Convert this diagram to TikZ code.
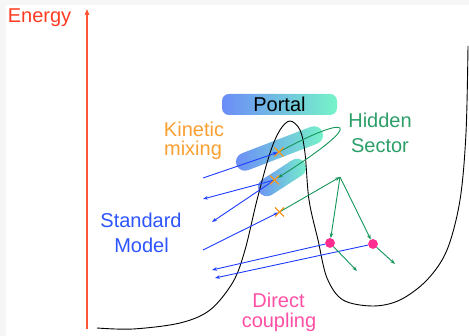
\documentclass[tikz,border=0pt]{standalone}
\usepackage{fontspec}
\setmainfont{Liberation Sans}
\usetikzlibrary{arrows.meta}

\definecolor{axisred}{RGB}{255,85,55}
\definecolor{energyred}{RGB}{255,60,35}
\definecolor{kinorange}{RGB}{250,160,50}
\definecolor{crossorange}{RGB}{245,150,30}
\definecolor{smblue}{RGB}{30,60,255}
\definecolor{smtext}{RGB}{45,85,255}
\definecolor{hsgreen}{RGB}{20,150,90}
\definecolor{hstext}{RGB}{45,160,105}
\definecolor{dotpink}{RGB}{255,45,145}
\definecolor{dctext}{RGB}{255,80,165}
\definecolor{shadeblue}{RGB}{108,140,248}
\definecolor{shadegreen}{RGB}{118,244,200}
\definecolor{panelgray}{RGB}{246,246,246}

\tikzset{
  lbl/.style={anchor=base, inner sep=0pt, font=\fontsize{20}{24}\selectfont},
  tip/.style={-{Stealth[length=5pt,width=3.6pt]}},
  smarrow/.style={tip, draw=smblue, line width=0.9pt},
  hsarrow/.style={tip, draw=hsgreen, line width=0.9pt},
  tube/.style={rounded corners=9pt, left color=shadeblue, right color=shadegreen},
  cross/.style={draw=crossorange, line width=1.3pt},
  pinkdot/.style={circle, fill=dotpink, inner sep=0pt, minimum size=9.5pt},
}

\begin{document}
\begin{tikzpicture}[x=1pt,y=-1pt]
  % canvas
  \fill[panelgray] (0,0) rectangle (469,336);
  \fill[white] (6,5) rectangle (469,336);
  \useasboundingbox (0,0) rectangle (469,336);

  % energy axis
  \coordinate (axbot) at (87,329);
  \coordinate (axtop) at (87,9);
  \draw[axisred, line width=1.3pt, -{Triangle[length=6pt,width=4.5pt]}] (axbot) -- (axtop);
  \node[lbl, text=energyred] (energy) at (39.5,23) {Energy};

  % mixing tubes
  \begin{scope}[shift={(279.5,148.5)}, rotate=21]
    \shade[tube] (-46,-9) rectangle (46,9);
  \end{scope}
  \begin{scope}[shift={(282,177.5)}, rotate=33]
    \shade[tube] (-27,-9) rectangle (27,9);
  \end{scope}

  % potential
  \draw[black, line width=0.9pt] plot[smooth, tension=0.55] coordinates {
    (97,328) (133,329) (180,323) (210,310) (233,282) (245,250) (257,200)
    (270,153) (280,130) (290,121) (300,130) (305,153) (309,200) (318,240)
    (327,278) (343,300) (373,306) (400,300) (427,280) (447,250) (460,200)
    (466,133) (468,46)};

  % portal
  \node[rounded corners=7pt, left color=shadeblue, right color=shadegreen,
        minimum width=115pt, minimum height=21pt, inner sep=0pt,
        font=\fontsize{20}{24}\selectfont] (portal) at (279.5,104.5) {Portal};

  % interaction points
  \coordinate (X1) at (279,152);
  \coordinate (X2) at (274.5,180);
  \coordinate (X3) at (279.5,212);
  \coordinate (V) at (340,177);
  \node[pinkdot] (d1) at (330,243) {};
  \node[pinkdot] (d2) at (373,244) {};

  % standard model legs
  \coordinate (s1) at (203,178);
  \coordinate (s2) at (203,199);
  \coordinate (s3) at (212,222);
  \coordinate (s4) at (203,250);
  \coordinate (s5) at (212,270);
  \coordinate (s6) at (215,278);
  \draw[smarrow, shorten >=1pt] (s1) -- (X1);
  \draw[smarrow] (X2) -- (s2);
  \draw[smarrow] (X2) -- (s3);
  \draw[smarrow, shorten >=1pt] (s4) -- (X3);
  \draw[smarrow] (d1) -- (s5);
  \draw[smarrow] (d2) -- (s6);

  % hidden sector legs
  \coordinate (h1) at (357,271);
  \coordinate (h2) at (395,264);
  \draw[hsarrow, shorten >=4pt] (X1) .. controls (348,114) and (372,118) .. (X2);
  \draw[hsarrow] (X3) -- (V);
  \draw[hsarrow] (V) -- (d1);
  \draw[hsarrow] (V) -- (d2);
  \draw[hsarrow] (d1) -- (h1);
  \draw[hsarrow] (d2) -- (h2);
  \node[pinkdot] at (d1) {};
  \node[pinkdot] at (d2) {};

  % mixing crosses
  \foreach \p in {X1,X2,X3}{
    \draw[cross] ([shift={(-4.5,-4.5)}]\p) -- ([shift={(4.5,4.5)}]\p);
    \draw[cross] ([shift={(-4.5,4.5)}]\p) -- ([shift={(4.5,-4.5)}]\p);
  }

  % labels
  \node[lbl, text=kinorange] (kin1) at (194,137) {Kinetic};
  \node[lbl, text=kinorange] (kin2) at (193,156) {mixing};
  \node[lbl, text=hstext] (hid1) at (380,128) {Hidden};
  \node[lbl, text=hstext] (hid2) at (380,153) {Sector};
  \node[lbl, text=smtext] (sm1) at (141,228) {Standard};
  \node[lbl, text=smtext] (sm2) at (141.5,253) {Model};
  \node[lbl, text=dctext] (dc1) at (278.5,308) {Direct};
  \node[lbl, text=dctext] (dc2) at (279,328) {coupling};
\end{tikzpicture}
\end{document}
